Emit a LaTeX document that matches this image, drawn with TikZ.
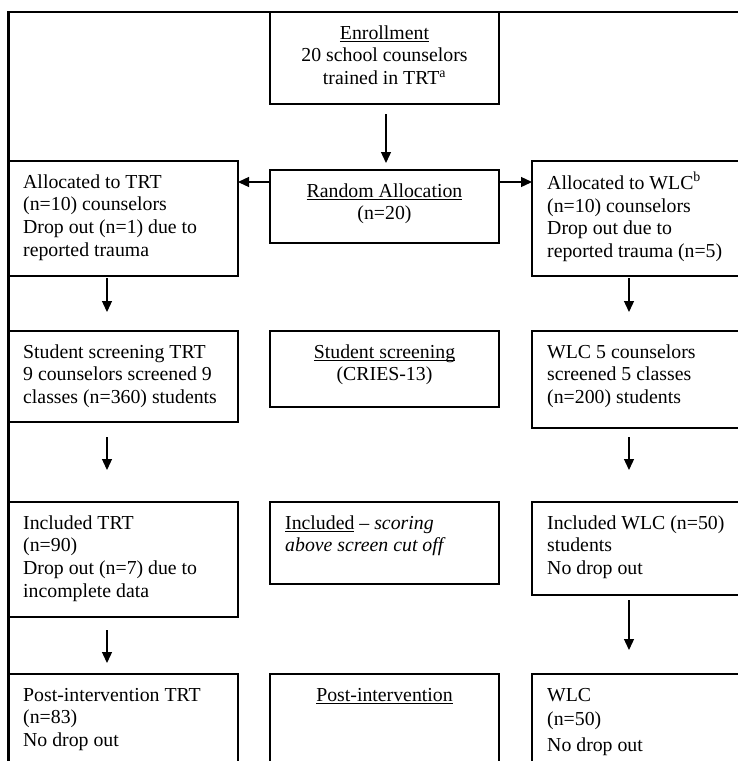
\documentclass[tikz,border=0pt]{standalone}
\usepackage{fontspec}
\setmainfont{Liberation Serif}
\usetikzlibrary{arrows.meta,calc}
\newsavebox\ulbx
\newcommand\ulin[1]{\sbox\ulbx{#1}\rlap{\usebox\ulbx}\rule[-2.8pt]{\wd\ulbx}{1pt}}
\begin{document}
\begin{tikzpicture}[x=1pt,y=-1pt,
  box/.style={draw, line width=1.3pt, rectangle, inner sep=0pt, outer sep=0pt, anchor=north west},
  txt/.style={inner sep=0pt, font=\fontsize{19.8}{22.7}\selectfont},
  ltxt/.style={txt, anchor=north west, align=left},
  ctxt/.style={txt, anchor=north, align=center},
  arr/.style={line width=1.3pt, -{Triangle[length=11pt,width=10pt]}},
  frame/.style={line width=2.7pt, line join=miter}]
\useasboundingbox (0,0) rectangle (738,761);
\clip (0,0) rectangle (738,761);

% boxes
\node[box, minimum width=229pt, minimum height=92pt]  (enroll)  at (270,12)  {};
\node[box, minimum width=229pt, minimum height=73pt]  (rand)    at (270,170) {};
\node[box, minimum width=229pt, minimum height=115pt] (alloc1)  at (9,161)   {};
\node[box, minimum width=240pt, minimum height=115pt] (alloc2)  at (532,161) {};
\node[box, minimum width=229pt, minimum height=91pt]  (screen1) at (9,331)   {};
\node[box, minimum width=229pt, minimum height=76pt]  (screenc) at (270,331) {};
\node[box, minimum width=240pt, minimum height=97pt]  (screen2) at (532,331) {};
\node[box, minimum width=229pt, minimum height=115pt] (incl1)   at (9,502)   {};
\node[box, minimum width=229pt, minimum height=82pt]  (inclc)   at (270,502) {};
\node[box, minimum width=240pt, minimum height=93pt]  (incl2)   at (532,502) {};
\node[box, minimum width=229pt, minimum height=120pt] (post1)   at (9,674)   {};
\node[box, minimum width=229pt, minimum height=120pt] (postc)   at (270,674) {};
\node[box, minimum width=240pt, minimum height=120pt] (post2)   at (532,674) {};

% texts
\node[ctxt] (tenroll) at ([yshift=-11.1pt]enroll.north) {\strut\ulin{Enrollment}\\20 school counselors\\trained in TRT\textsuperscript{a}};
\node[ctxt] (trand) at ([yshift=-11.1pt]rand.north) {\strut\ulin{Random Allocation}\\(n=20)};
\node[ltxt] (talloc1) at ([xshift=14pt,yshift=-11.1pt]alloc1.north west) {\strut Allocated to TRT\\(n=10) counselors\\Drop out (n=1) due to\\reported trauma};
\node[ltxt] (talloc2) at ([xshift=15pt,yshift=-11.1pt]alloc2.north west) {\strut Allocated to WLC\textsuperscript{b}\\(n=10) counselors\\Drop out due to\\reported trauma (n=5)};
\node[ltxt] (tscreen1) at ([xshift=14pt,yshift=-11.1pt]screen1.north west) {\strut Student screening TRT\\9 counselors screened 9\\classes (n=360) students};
\node[ctxt] (tscreenc) at ([yshift=-11.1pt]screenc.north) {\strut\ulin{Student screening}\\(CRIES-13)};
\node[ltxt] (tscreen2) at ([xshift=15pt,yshift=-11.1pt]screen2.north west) {\strut WLC 5 counselors\\screened 5 classes\\(n=200) students};
\node[ltxt] (tincl1) at ([xshift=14pt,yshift=-11.1pt]incl1.north west) {\strut Included TRT\\(n=90)\\Drop out (n=7) due to\\incomplete data};
\node[ltxt] (tinclc) at ([xshift=15pt,yshift=-11.1pt]inclc.north west) {\strut\ulin{Included} -- \textit{scoring}\\\textit{above screen cut off}};
\node[ltxt] (tincl2) at ([xshift=15pt,yshift=-11.1pt]incl2.north west) {\strut Included WLC (n=50)\\students\\No drop out};
\node[ltxt] (tpost1) at ([xshift=14pt,yshift=-11.1pt]post1.north west) {\strut Post-intervention TRT\\(n=83)\\No drop out};
\node[ctxt] (tpostc) at ([yshift=-11.1pt]postc.north) {\strut\ulin{Post-intervention}};
\node[ltxt] (tpost2) at ([xshift=15pt,yshift=-11.1pt]post2.north west) {\strut WLC\\[1.5pt](n=50)\\[3pt]No drop out};

% arrow guide coordinates
\coordinate (cx) at (386,0);
\coordinate (lx) at (107,0);
\coordinate (rx) at (629,0);
\coordinate (ay) at (0,182);

% arrows
\draw[arr, shorten <=10pt, shorten >=7pt] (enroll.south -| cx) -- (rand.north -| cx);
\draw[arr] (rand.west |- ay) -- (alloc1.east |- ay);
\draw[arr] (rand.east |- ay) -- (alloc2.west |- ay);
\draw[arr, shorten <=2pt, shorten >=19pt] (alloc1.south -| lx) -- (screen1.north -| lx);
\draw[arr, shorten <=2pt, shorten >=19pt] (alloc2.south -| rx) -- (screen2.north -| rx);
\draw[arr, shorten <=15pt, shorten >=32pt] (screen1.south -| lx) -- (incl1.north -| lx);
\draw[arr, shorten <=9pt, shorten >=32pt] (screen2.south -| rx) -- (incl2.north -| rx);
\draw[arr, shorten <=13pt, shorten >=11pt] (incl1.south -| lx) -- (post1.north -| lx);
\draw[arr, shorten <=5pt, shorten >=24pt] (incl2.south -| rx) -- (post2.north -| rx);

% outer frame
\draw[frame] (8.5,775) -- (8.5,12) -- (750,12);
\end{tikzpicture}
\end{document}
